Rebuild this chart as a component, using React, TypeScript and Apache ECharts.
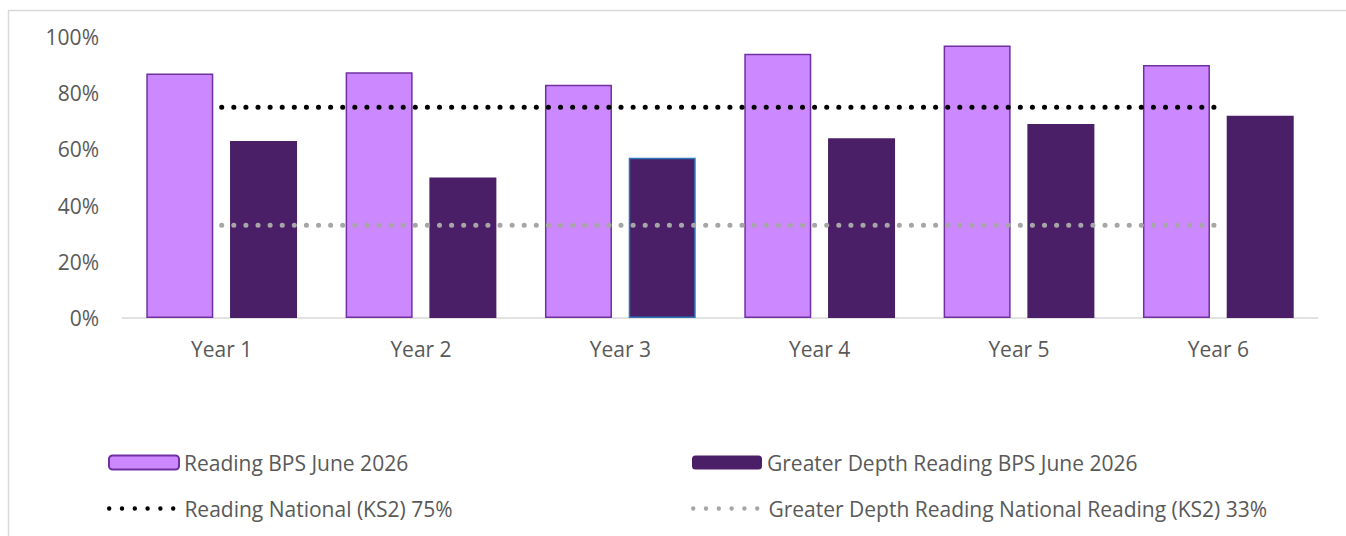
import React, { useEffect, useRef } from "react";
import * as echarts from "echarts";

const categories = ["Year 1", "Year 2", "Year 3", "Year 4", "Year 5", "Year 6"];
const readingBPS = [87, 87.5, 83, 94, 97, 90];
const greaterDepthBPS = [63, 50, 57, 64, 69, 72];
const readingNational = [75, 75, 75, 75, 75, 75];
const greaterDepthNational = [33, 33, 33, 33, 33, 33];
const yTicks = [0, 20, 40, 60, 80, 100];

const seriesNames = [
  "Reading BPS June 2026",
  "Greater Depth Reading BPS June 2026",
  "Reading National (KS2) 75%",
  "Greater Depth Reading National Reading (KS2) 33%",
];

const FONT = "'Open Sans', 'Noto Sans', sans-serif";
const TEXT = "#595959";
const FS = 21;

function dotsPath(): string {
  const centers = [2.2, 15, 27.8, 40.6, 53.4, 66.2];
  return (
    "path://" +
    centers
      .map((c) => `M${c - 2.2} 2.2a2.2 2.2 0 1 0 4.4 0a2.2 2.2 0 1 0 -4.4 0Z`)
      .join("")
  );
}

export default function App() {
  const ref = useRef<HTMLDivElement>(null);
  useEffect(() => {
    document.body.style.margin = "0";
    const chart = echarts.init(ref.current!, null, { renderer: "svg" });
    const legendBase = {
      orient: "horizontal",
      padding: 0,
      itemWidth: 70,
      itemHeight: 14,
      textStyle: { color: TEXT, fontSize: FS, fontFamily: FONT },
      selectedMode: false,
    };
    const lineLegendText = { color: TEXT, fontSize: FS, fontFamily: FONT, padding: [0, 0, 0, 4] };
    const dots = dotsPath();
    chart.setOption({
      animation: false,
      textStyle: { fontFamily: FONT },
      graphic: [
        {
          type: "rect",
          shape: { x: 8.5, y: 10.5, width: 1400, height: 600 },
          style: { fill: "none", stroke: "#D9D9D9", lineWidth: 1.5 },
          silent: true,
          z: -10,
        },
      ],
      grid: { left: 122, right: 28, top: 37, bottom: 218, containLabel: false },
      legend: [
        { ...legendBase, data: [seriesNames[0]], left: 108, top: 452 },
        { ...legendBase, data: [seriesNames[1]], left: 692, top: 452 },
        {
          ...legendBase,
          itemWidth: 68.4,
          itemHeight: 4.4,
          textStyle: lineLegendText,
          data: [{ name: seriesNames[2], icon: dots }],
          left: 107,
          top: 498,
        },
        {
          ...legendBase,
          itemWidth: 68.4,
          itemHeight: 4.4,
          textStyle: lineLegendText,
          data: [{ name: seriesNames[3], icon: dots }],
          left: 691,
          top: 498,
        },
      ],
      xAxis: {
        type: "category",
        data: categories,
        boundaryGap: true,
        axisLine: { show: true, lineStyle: { color: "#D9D9D9", width: 1.5 } },
        axisTick: { show: false },
        axisLabel: { color: TEXT, fontSize: FS, fontFamily: FONT, margin: 20 },
        splitLine: { show: false },
      },
      yAxis: {
        type: "value",
        min: yTicks[0],
        max: yTicks[yTicks.length - 1],
        interval: 20,
        axisLine: { show: false },
        axisTick: { show: false },
        splitLine: { show: false },
        axisLabel: {
          color: TEXT,
          fontSize: FS,
          fontFamily: FONT,
          margin: 23,
          formatter: "{value}%",
        },
      },
      series: [
        {
          name: seriesNames[0],
          type: "bar",
          data: readingBPS,
          barWidth: 67,
          barGap: "25%",
          itemStyle: { color: "#CC88FF", borderColor: "#7030A0", borderWidth: 1.5 },
        },
        {
          name: seriesNames[1],
          type: "bar",
          data: greaterDepthBPS.map((v, i) =>
            i === 2
              ? { value: v, itemStyle: { color: "#4A1F67", borderColor: "#2E75B6", borderWidth: 1.5 } }
              : v
          ),
          barWidth: 67,
          barGap: "25%",
          itemStyle: { color: "#4A1F67", borderWidth: 0 },
        },
        {
          name: seriesNames[2],
          type: "line",
          data: readingNational,
          symbol: "none",
          z: 5,
          itemStyle: { color: "#000000" },
          lineStyle: { color: "#000000", width: 5, type: [0.1, 12], cap: "round" },
        },
        {
          name: seriesNames[3],
          type: "line",
          data: greaterDepthNational,
          symbol: "none",
          z: 5,
          itemStyle: { color: "#A6A6A6" },
          lineStyle: { color: "#A6A6A6", width: 5, type: [0.1, 12], cap: "round" },
        },
      ],
    });
    return () => chart.dispose();
  }, []);
  return <div ref={ref} style={{ width: 1346, height: 536 }} />;
}
